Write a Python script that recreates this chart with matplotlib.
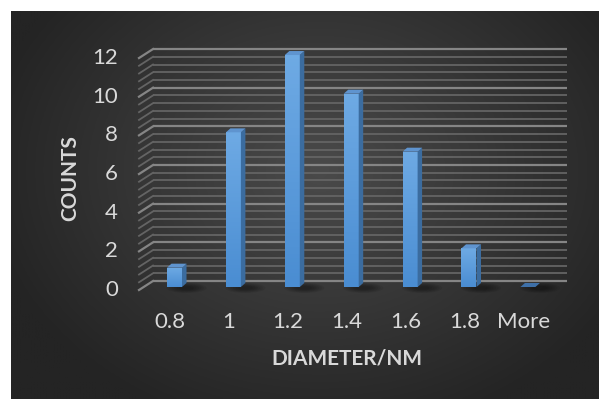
import numpy as np
import matplotlib.pyplot as plt
from matplotlib.patches import Polygon, Ellipse
from matplotlib.colors import LinearSegmentedColormap

# Histogram of particle diameters
bins = ['0.8', '1', '1.2', '1.4', '1.6', '1.8', 'More']
counts = [1, 8, 12, 10, 7, 2, 0]
y_ticks = [0, 2, 4, 6, 8, 10, 12]

W, H = 599, 399
# pixel layout of the front plane: category 0 at x=170, 58.9 px per bin,
# count 0 at y=290, 19.33 px per unit
X0, XS, Y0, YS = 170, 58.9, 290, 19.33


def px_x(p):
    return (p - X0) / XS


def px_y(p):
    return (Y0 - p) / YS


fig = plt.figure(figsize=(W / 100, H / 100), dpi=100, facecolor='white')
ax = fig.add_axes([0, 0, 1, 1])
ax.set_xlim(px_x(0), px_x(W))
ax.set_ylim(px_y(H), px_y(0))
ax.axis('off')

# dark radial background
gx, gy = np.meshgrid(np.linspace(11, W, 300), np.linspace(11, H, 200))
r = np.hypot((gx - 320) / 340, (gy - 170) / 270)
shade = np.clip(1 - r, 0, 1) ** 1.0
bg = LinearSegmentedColormap.from_list('bg', ['#242424', '#4a4a4a'])
ax.imshow(shade, cmap=bg, vmin=0, vmax=1, aspect='auto', zorder=0,
          extent=[px_x(11), px_x(W), px_y(H), px_y(11)], interpolation='bilinear')

# back wall gridlines with the slanted side-wall segments
wall_dx, wall_dy = 14 / XS, 9 / YS
left_front, right_front = px_x(139), px_x(553)
for v in np.arange(0, 12.01, 0.4):
    major = abs(v / 2 - round(v / 2)) < 1e-6
    col = '#858585' if major else '#646464'
    lw = 1.6 if major else 1.3
    ax.plot([left_front + wall_dx, right_front + wall_dx],
            [v + wall_dy, v + wall_dy], color=col, lw=lw, zorder=1,
            solid_capstyle='butt')
    ax.plot([left_front, left_front + wall_dx], [v, v + wall_dy],
            color=col, lw=lw, zorder=1)

# 3D-looking bars
x = np.arange(len(bins)) + 4.5 / XS
base = 3 / YS
bw = 15 / XS
ddx, ddy = 4.5 / XS, 4 / YS

# soft shadows on the floor
for xi in x:
    for k in range(6):
        ax.add_patch(Ellipse((xi + bw * 0.8, base - 0.05), (40 - 5 * k) / XS,
                             (10 - 1.3 * k) / YS, color='black', alpha=0.07,
                             lw=0, zorder=2))

bars = ax.bar(x, counts, width=bw, bottom=base, color='#5b9bd5', zorder=3)
face = LinearSegmentedColormap.from_list('face', ['#4a8dd2', '#6eaae4'])
grad = np.linspace(0, 1, 64).reshape(-1, 1)
for b, c in zip(bars, counts):
    x0, x1 = b.get_x(), b.get_x() + b.get_width()
    top = base + c
    if c > 0:
        im = ax.imshow(grad, cmap=face, origin='lower', aspect='auto', zorder=3.5,
                       extent=[x0, x1, base, top])
        im.set_clip_path(b)
        ax.add_patch(Polygon([(x1, base), (x1 + ddx, base + ddy),
                              (x1 + ddx, top + ddy), (x1, top)],
                             closed=True, facecolor='#3b6c9f', lw=0, zorder=3.6))
        ax.add_patch(Polygon([(x0, top), (x1, top), (x1 + ddx, top + ddy),
                              (x0 + ddx, top + ddy)],
                             closed=True, facecolor='#5f94cf', lw=0, zorder=3.6))
    else:
        ax.add_patch(Polygon([(x0, top), (x1, top), (x1 + ddx, top + ddy),
                              (x0 + ddx, top + ddy)],
                             closed=True, facecolor='#3e70a8', lw=0, zorder=3.6))
ax.set_xlim(px_x(0), px_x(W))
ax.set_ylim(px_y(H), px_y(0))

txt = '#d9d9d9'
font = ['Lato', 'DejaVu Sans']
for t in y_ticks:
    ax.text(px_x(118), t, str(t), ha='right', va='center', color=txt,
            fontsize=16, family=font, zorder=5)
for i, lab in enumerate(bins):
    ax.text(i, px_y(322), lab, ha='center', va='center', color=txt,
            fontsize=16, family=font, zorder=5)

fig.text(347 / W, 1 - 358.5 / H, 'DIAMETER/NM', ha='center', va='center',
         color=txt, fontsize=15, fontweight='bold', family=font)
fig.text(70 / W, 1 - 178 / H, 'COUNTS', ha='center', va='center',
         rotation=90, color=txt, fontsize=15, fontweight='bold', family=font)

fig.savefig('out.png', dpi=100, facecolor='white')
